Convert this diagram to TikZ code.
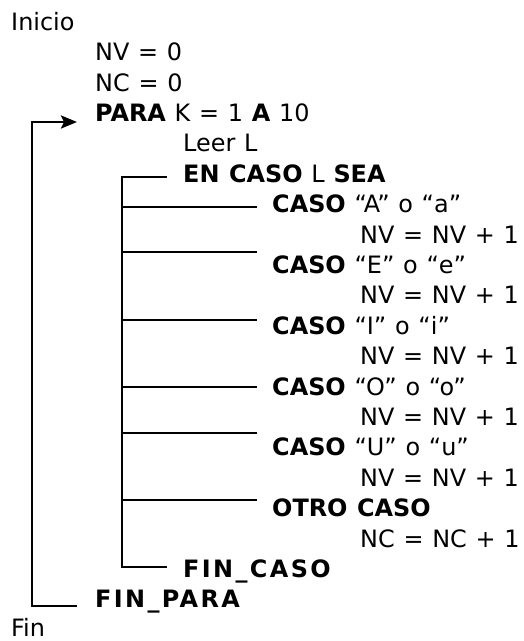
\documentclass[tikz,border=0pt]{standalone}
\usepackage{fontspec}
\setmainfont{DejaVu Sans}[WordSpace={1.15}]
\usetikzlibrary{arrows.meta,positioning,calc}
\tikzset{
  >={Stealth[length=16bp,width=13bp,inset=3bp]},
  txt/.style  = {anchor=base west, inner sep=0pt, font=\fontsize{24}{28}\selectfont},
  wire/.style = {line width=2.6bp},
}
\newcommand{\kw}[1]{\textbf{#1}}
\newcommand{\kwsp}[1]{{\bfseries\addfontfeature{LetterSpace=10}#1}}

\begin{document}
\begin{tikzpicture}[x=1bp,y=-1bp]
\useasboundingbox (0,0) rectangle (524,641);
% main block
\node[txt] (inicio) at (11,30.3) {Inicio};
\node[txt] (nv0) at (95,60.7) {NV = 0};
\node[txt] (nc0) at (95,91.1) {NC = 0};
\node[txt] (para) at (95,121.5) {\kw{PARA} K = 1 \kw{A} 10};
\node[txt] (leer) at (183,151.9) {Leer L};
\node[txt] (encaso) at (183,182.3) {\kw{EN CASO} L \kw{SEA}};
% cases
\node[txt] (casoA) at (272,212.7) {\kw{CASO} “A” o “a”};
\node[txt] (accA) at (360,243.1) {NV = NV + 1};
\node[txt] (casoE) at (272,273.5) {\kw{CASO} “E” o “e”};
\node[txt] (accE) at (360,303.9) {NV = NV + 1};
\node[txt] (casoI) at (272,334.3) {\kw{CASO} “I” o “i”};
\node[txt] (accI) at (360,364.7) {NV = NV + 1};
\node[txt] (casoO) at (272,395.1) {\kw{CASO} “O” o “o”};
\node[txt] (accO) at (360,425.5) {NV = NV + 1};
\node[txt] (casoU) at (272,455.9) {\kw{CASO} “U” o “u”};
\node[txt] (accU) at (360,486.3) {NV = NV + 1};
\node[txt] (otro) at (272,516.7) {\kw{OTRO CASO}};
\node[txt] (accNC) at (360,547.1) {NC = NC + 1};
\node[txt] (fincaso) at (183,577.5) {\kwsp{FIN\_CASO}};
\node[txt] (finpara) at (95,607.9) {\kwsp{FIN\_PARA}};
\node[txt] (fin) at (11,636.5) {Fin};

% loop bracket
\coordinate (looptop) at (32,122);
\coordinate (loopbot) at (32,606);
\draw[wire,->] ($(loopbot -| finpara.west)+(-18,0)$) -- (loopbot) -- (looptop)
  -- ($(looptop -| para.west)+(-18,0)$);

% case bracket
\coordinate (casetop) at (122,177);
\coordinate (casebot) at (122,567);
\draw[wire] ($(casetop -| encaso.west)+(-16,0)$) -- (casetop) -- (casebot)
  -- ($(casebot -| fincaso.west)+(-16,0)$);
\foreach \c/\y in {casoA/207,casoE/252,casoI/320,casoO/387,casoU/433,otro/500}
  \draw[wire] (122,\y) -- ($(\c.west |- 0,\y)+(-15,0)$);
\end{tikzpicture}
\end{document}
